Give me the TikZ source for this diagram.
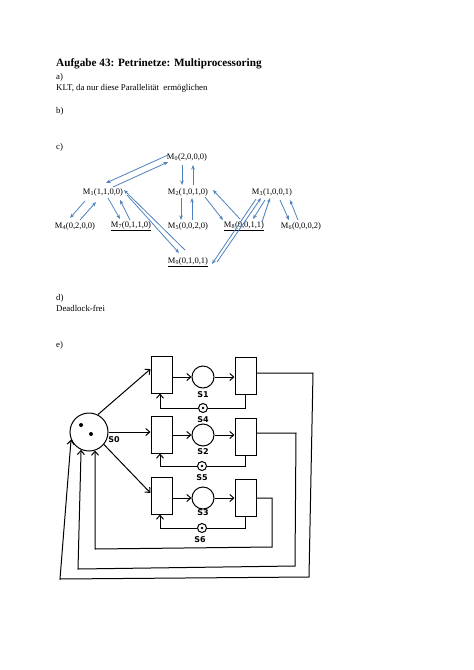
\documentclass[tikz,border=0pt]{standalone}
\usepackage{fontspec}
\setmainfont{Liberation Serif}
\newfontfamily\petrifont{DejaVu Sans}
\usetikzlibrary{arrows.meta,calc}
\definecolor{arrblue}{RGB}{79,129,189}
\begin{document}
\begin{tikzpicture}[x=1pt,y=-1pt,
  txt/.style={anchor=base west,inner sep=0pt,font=\fontsize{8.8}{10}\selectfont},
  mk/.style={inner sep=1pt,font=\fontsize{8.5}{10}\selectfont},
  barr/.style={draw=arrblue,line width=0.8pt,-{Stealth[length=4.5pt,width=3.5pt]}},
  trans/.style={draw,line width=1pt,minimum width=21pt,minimum height=37pt,inner sep=0pt},
  place/.style={draw,circle,line width=1pt,minimum size=22pt,inner sep=0pt},
  smallplace/.style={draw,circle,line width=1pt,minimum size=9pt,inner sep=0pt},
  lab/.style={font=\petrifont\bfseries\fontsize{8}{9}\selectfont,inner sep=0pt},
  parr/.style={draw,line width=1pt,-{Straight Barb[length=4pt,width=7pt]}},
  pline/.style={draw,line width=1pt},
]
\useasboundingbox (0,0) rectangle (474,670);

% texts
\node[txt,font=\bfseries\fontsize{11.2}{13}\selectfont] (title) at (56,66) {Aufgabe 43: Petrinetze: Multiprocessoring};
\node[txt] (ta) at (56,79) {a)};
\node[txt] (tklt) at (56,90) {KLT, da nur diese Parallelität\ \ ermöglichen};
\node[txt] (tb) at (56,113) {b)};
\node[txt] (tc) at (56,149) {c)};
\node[txt] (td) at (56,300) {d)};
\node[txt] (tdead) at (56,311) {Deadlock-frei};
\node[txt] (te) at (56,347) {e)};

% markings
\node[mk] (M0) at (187,157) {M\textsubscript{0}(2,0,0,0)};
\node[mk] (M1) at (103,192) {M\textsubscript{1}(1,1,0,0)};
\node[mk] (M2) at (188,192) {M\textsubscript{2}(1,0,1,0)};
\node[mk] (M3) at (272,192) {M\textsubscript{3}(1,0,0,1)};
\node[mk] (M4) at (75,226) {M\textsubscript{4}(0,2,0,0)};
\node[mk] (M7) at (131,226) {\underline{M\textsubscript{7}(0,1,1,0)}};
\node[mk] (M5) at (188,226) {M\textsubscript{5}(0,0,2,0)};
\node[mk] (M8) at (244,226) {\underline{M\textsubscript{8}(0,0,1,1)}};
\node[mk] (M6) at (301,226) {M\textsubscript{6}(0,0,0,2)};
\node[mk] (M9) at (188,262) {\underline{M\textsubscript{9}(0,1,0,1)}};

\draw[barr] ($(M0)+(-19,-2)$) -- ($(M1)+(3,-9)$);
\draw[barr] ($(M1)+(10,-5)$) -- ($(M0)+(-19,5)$);
\draw[barr] ($(M0)+(-5,8)$) -- ($(M2)+(-6,-7)$);
\draw[barr] ($(M2)+(5,-7)$) -- ($(M0)+(6,8)$);
\draw[barr] ($(M1)+(-18,9)$) -- ($(M4)+(-5,-8)$);
\draw[barr] ($(M4)+(5,-6)$) -- ($(M1)+(-7,10)$);
\draw[barr] ($(M1)+(5,6)$) -- ($(M7)+(-11,-7)$);
\draw[barr] ($(M7)+(-1,-6)$) -- ($(M1)+(17,8)$);
\draw[barr] ($(M9)+(-3,-12)$) -- ($(M1)+(21,-2)$);
\draw[barr] ($(M1)+(24,3)$) -- ($(M9)+(-9,-9)$);
\draw[barr] ($(M2)+(-7,6)$) -- ($(M5)+(-7,-6)$);
\draw[barr] ($(M5)+(4,-6)$) -- ($(M2)+(4,6)$);
\draw[barr] ($(M2)+(17,5)$) -- ($(M8)+(-21,-6)$);
\draw[barr] ($(M8)+(-4,-7)$) -- ($(M2)+(25,-2)$);
\draw[barr] ($(M3)+(-16,7)$) -- ($(M9)+(24,2)$);
\draw[barr] ($(M9)+(29,0)$) -- ($(M3)+(-11,6)$);
\draw[barr] ($(M3)+(-7,8)$) -- ($(M8)+(9,-7)$);
\draw[barr] ($(M8)+(18,-4)$) -- ($(M3)+(-2,6)$);
\draw[barr] ($(M3)+(8,8)$) -- ($(M6)+(-12,-6)$);
\draw[barr] ($(M6)+(-3,-6)$) -- ($(M3)+(18,8)$);

% Petri net
\node[draw,circle,line width=1pt,minimum size=38pt,inner sep=0pt] (S0) at (89,432) {};
\fill (81,425) circle (2pt);
\fill (91,434) circle (2pt);
\node[lab] (lS0) at (114,440) {S0};

\node[trans] (T1a) at (161.5,374.5) {};
\node[trans] (T1b) at (245.5,375.5) {};
\node[trans] (T2a) at (161.5,434.5) {};
\node[trans] (T2b) at (245.5,436.5) {};
\node[trans] (T3a) at (161.5,495.5) {};
\node[trans] (T3b) at (245.5,497.5) {};

\node[place] (S1) at (203,377) {};
\node[place] (S2) at (203,435) {};
\node[place] (S3) at (203,498) {};
\node[smallplace] (S4) at (203,408) {};
\node[smallplace] (S5) at (202,466) {};
\node[smallplace] (S6) at (202,528) {};
\fill (S4) circle (1.4pt);
\fill (S5) circle (1.4pt);
\fill (S6) circle (1.4pt);

\node[lab] (lS1) at (203,395) {S1};
\node[lab] (lS4) at (203,420) {S4};
\node[lab] (lS2) at (203,452) {S2};
\node[lab] (lS5) at (202,478) {S5};
\node[lab] (lS3) at (203,513) {S3};
\node[lab] (lS6) at (200,540) {S6};

% rows
\draw[parr] (S1.west -| T1a.east) -- (S1.west);
\draw[parr] (S1.east) -- (S1.east -| T1b.west);
\draw[parr] (S2.west -| T2a.east) -- (S2.west);
\draw[parr] (S2.east) -- (S2.east -| T2b.west);
\draw[parr] (S3.west -| T3a.east) -- (S3.west);
\draw[parr] (S3.east) -- (S3.east -| T3b.west);

% feedback through small places
\draw[pline] (T1b.south) |- (S4.east);
\draw[parr] (S4.west) -| ($(T1a.south)+(-1.5,0)$);
\draw[pline] (T2b.south) |- (S5.east);
\draw[parr] (S5.west) -| ($(T2a.south)+(-1.5,0)$);
\draw[pline] (T3b.south) |- (S6.east);
\draw[parr] (S6.west) -| ($(T3a.south)+(-1.5,0)$);

% from S0
\draw[parr] (S0.63) -- ($(T1a.west)+(0,-5.5)$);
\draw[parr] (S0.east) -- (S0.east -| T2a.west);
\draw[parr] (S0.-40) -- ($(T3a.west)+(0,-2.5)$);

% return loops
\coordinate (o1) at (313,373);
\coordinate (o2) at (309,577);
\coordinate (o3) at (60,579);
\draw[parr] ($(T1b.east)+(0,-2.5)$) -- (o1) -- (o2) -- (o3) -- (S0.203);
\coordinate (m1) at (296,433);
\coordinate (m2) at (295,566);
\coordinate (m3) at (78,569);
\draw[parr] ($(T2b.east)+(0,-3.5)$) -- (m1) -- (m2) -- (m3) -- (S0.246);
\coordinate (i1) at (272,498);
\coordinate (i2) at (272,547);
\coordinate (i3) at (95,549);
\draw[parr] ($(T3b.east)+(0,0.5)$) -- (i1) -- (i2) -- (i3) -- (S0.288);
\end{tikzpicture}
\end{document}
